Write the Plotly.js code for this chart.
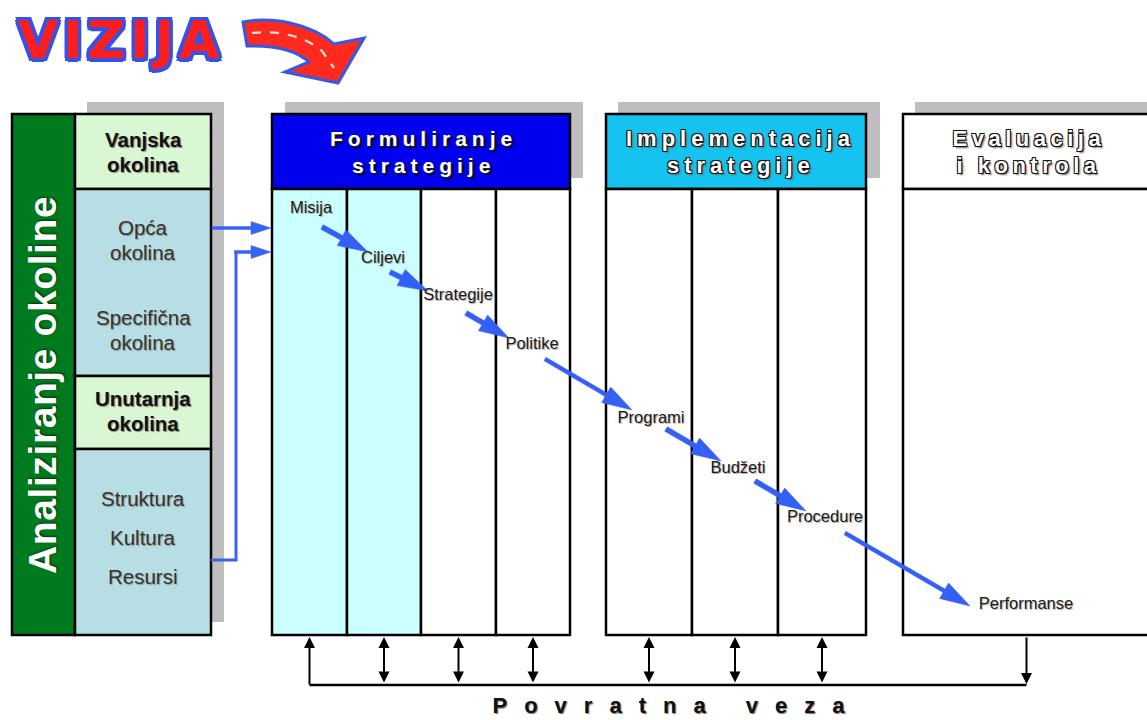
<!DOCTYPE html>
<html><head><meta charset="utf-8">
<script src="https://cdn.plot.ly/plotly-3.0.1.min.js"></script>
<style>html,body{margin:0;padding:0;background:#fff}#chart{width:1147px;height:720px}</style>
</head><body><div id="chart"></div>
<script>
// ---------- text content ----------
const title = 'VIZIJA';
const sideTitle = 'Analiziranje okoline';
const envHeaders = ['Vanjska<br>okolina', 'Unutarnja<br>okolina'];
const externalItems = ['Opća<br>okolina', 'Specifična<br>okolina'];
const internalItems = ['Struktura', 'Kultura', 'Resursi'];
const stageNames = ['Formuliranje<br>strategije', 'Implementacija<br>strategije', 'Evaluacija<br>i kontrola'];
const steps = ['Misija', 'Ciljevi', 'Strategije', 'Politike', 'Programi', 'Budžeti', 'Procedure', 'Performanse'];
const feedbackLabel = 'Povratna veza';

// ---------- geometry (pixel space of the diagram) ----------
const topY = 114, headBottom = 189, bottomY = 635;
const leftPanel = {x0: 12, xs: 75, x1: 211};
const envRows = [114, 189, 376, 449, 635];
const envHeaderY = [139, 398];
const externalY = [227, 317];
const internalY = [498, 537, 576];
const lineGap = 25;
const stageCols = [[272, 347, 421, 496, 570], [606, 692, 778, 866], [903, 1160]];
const stageHeadFill = ['#0000EE', '#14C3EF', '#FFFFFF'];
const stageColFill = [['#CCFFFF', '#CCFFFF', '#FFFFFF', '#FFFFFF'], ['#FFFFFF', '#FFFFFF', '#FFFFFF'], ['#FFFFFF']];
const stageTextX = [423, 741, 1029];
const stepX = [311, 383, 458, 532, 651, 738, 825, 1026];
const stepY = [209, 259, 296, 345, 419, 469, 518, 605];
const stepArrows = [[322, 227, 368, 252], [390, 272, 428, 291], [466, 313, 509, 338], [545, 359, 632, 410],
                    [666, 429, 721, 461], [755, 481, 806, 511], [845, 533, 970, 606]];
const feedbackY = 685;

// ---------- build ----------
const shapes = [], annotations = [], spacing = [];
const K = '#000';
function rect(x0, y0, x1, y1, fill, lw, lc) {
  shapes.push({type: 'rect', layer: 'below', xref: 'x', yref: 'y', x0, y0, x1, y1, fillcolor: fill,
    line: {width: lw === undefined ? 2.5 : lw, color: lc || K}});
}
function line(x0, y0, x1, y1, w, c) {
  shapes.push({type: 'line', layer: 'below', xref: 'x', yref: 'y', x0, y0, x1, y1, line: {width: w || 2.5, color: c || K}});
}
function pathShape(path, fill, lc, lw, dash) {
  shapes.push({type: 'path', layer: 'below', xref: 'x', yref: 'y', path, fillcolor: fill || 'rgba(0,0,0,0)',
    line: {color: lc || 'rgba(0,0,0,0)', width: lw || 0, dash: dash || 'solid'}});
}
function txt(x, y, text, font, extra) {
  annotations.push(Object.assign({x, y, xref: 'x', yref: 'y', text, showarrow: false, font,
    xanchor: 'center', yanchor: 'middle'}, extra || {}));
  return annotations.length - 1;
}
function arrow(x0, y0, x1, y1, opts) {
  annotations.push(Object.assign({x: x1, y: y1, ax: x0, ay: y0, xref: 'x', yref: 'y', axref: 'x', ayref: 'y',
    text: '', showarrow: true, standoff: 0}, opts));
}
// filled block arrow polygon from (x0,y0) to tip (x1,y1)
function blockArrow(x0, y0, x1, y1, ws, L, W, color) {
  const dx = x1 - x0, dy = y1 - y0, len = Math.hypot(dx, dy);
  const ux = dx / len, uy = dy / len, nx = -uy, ny = ux;
  const bx = x1 - ux * L, by = y1 - uy * L;
  const p = (x, y) => x.toFixed(1) + ',' + y.toFixed(1);
  const path = 'M' + p(x0 + nx * ws / 2, y0 + ny * ws / 2) +
    ' L' + p(bx + nx * ws / 2, by + ny * ws / 2) +
    ' L' + p(bx + nx * W / 2, by + ny * W / 2) +
    ' L' + p(x1, y1) +
    ' L' + p(bx - nx * W / 2, by - ny * W / 2) +
    ' L' + p(bx - nx * ws / 2, by - ny * ws / 2) +
    ' L' + p(x0 - nx * ws / 2, y0 - ny * ws / 2) + ' Z';
  pathShape(path, color, color, 0.5);
}
const GRAY = '#BEBEBE';
// shadows
rect(87, 102, 224, 622, GRAY, 0);
rect(285, 102, 583, 178, GRAY, 0);
rect(618, 102, 880, 178, GRAY, 0);
rect(915, 102, 1160, 178, GRAY, 0);

// left panel
rect(leftPanel.x0, topY, leftPanel.xs, bottomY, '#007A1E', 2.5);
const envFill = ['#D9F7D3', '#B7DEE4', '#D9F7D3', '#B7DEE4'];
for (let i = 0; i < 4; i++) rect(leftPanel.xs, envRows[i], leftPanel.x1, envRows[i + 1], envFill[i], 2.5);

// stage boxes
stageCols.forEach((cols, s) => {
  rect(cols[0], topY, cols[cols.length - 1], headBottom, stageHeadFill[s], 2.5);
  for (let c = 0; c < cols.length - 1; c++) rect(cols[c], headBottom, cols[c + 1], bottomY, stageColFill[s][c], 2.5);
});

// vision arrow (decorative)
pathShape('M243,22 C272,16 312,24 334,44 L364,38 L338,83 L285,72 L309,62 C296,50 276,45 247,46 Z', '#FF2A1E', '#3558E8', 3);
pathShape('M252,33 C280,30 306,37 322,51 L334,68', null, '#FFE0D8', 2.2, 'dash');

// feedback loop
const colCenters = [];
stageCols.forEach(cols => { for (let c = 0; c < cols.length - 1; c++) colCenters.push((cols[c] + Math.min(cols[c + 1], 1150)) / 2); });
const fbFirst = colCenters[0], fbLast = colCenters[colCenters.length - 1];
line(fbFirst, feedbackY, fbLast, feedbackY, 2.5);
colCenters.forEach((cx, i) => {
  const fb = {arrowcolor: K, arrowwidth: 2, arrowhead: 2, arrowsize: 1.1};
  if (i === 0) arrow(cx, feedbackY + 1, cx, bottomY + 2, fb);
  else if (i === colCenters.length - 1) arrow(cx, bottomY + 1, cx, feedbackY - 1, fb);
  else arrow(cx, feedbackY - 1, cx, bottomY + 2, Object.assign({arrowside: 'end+start', startarrowhead: 2, startarrowsize: 1.1}, fb));
});

// environment -> strategy arrows
const BL = '#3A63F3';
blockArrow(leftPanel.x1 + 1, 228, stageCols[0][0] - 1, 228, 3, 20, 13, BL);
pathShape('M211,560 L236,560 L236,252', null, BL, 3);
blockArrow(234.5, 252, stageCols[0][0] - 1, 252, 3, 20, 13, BL);

// step arrows
stepArrows.forEach((a, i) => {
  const long = (i === 3 || i === 6);
  blockArrow(a[0], a[1], a[2], a[3], long ? 4 : 5, 30, 18, '#3560F5');
});

// texts
const FF = '"Liberation Sans", Arial, sans-serif';
const vIdx = txt(121, 40, title, {family: '"DejaVu Sans", sans-serif', size: 52, color: '#FF1E1E', weight: 'bold',
  shadow: '-3px -3px 0 #3552E6, 3px -3px 0 #3552E6, -3px 3px 0 #3552E6, 3px 3px 0 #3552E6, 0 3.5px 0 #3552E6, 0 -3.5px 0 #3552E6, 3.5px 0 0 #3552E6, -3.5px 0 0 #3552E6'});
spacing.push([vIdx, 5]);
const sIdx = txt(42, 385, sideTitle, {family: FF, size: 39, color: '#FFFFFF', weight: 'bold', shadow: '1px 1px 2px #003300'}, {textangle: -90});
spacing.push([sIdx, 0.6]);
const cx = (leftPanel.xs + leftPanel.x1) / 2;
function multi(x, y0, text, font) { text.split('<br>').forEach((t, k) => txt(x, y0 + k * lineGap, t, font)); }
const boldF = {family: FF, size: 20.5, color: '#111', weight: 'bold', shadow: '1px 1px 1px #888'};
const regF = {family: FF, size: 20.5, color: '#333', shadow: '1px 1px 1px #999'};
envHeaders.forEach((t, i) => multi(cx, envHeaderY[i], t, boldF));
externalItems.forEach((t, i) => multi(cx, externalY[i], t, regF));
internalItems.forEach((t, i) => txt(cx, internalY[i], t, regF));

const outline = '-1px -1px 0 #111, 1px -1px 0 #111, -1px 1px 0 #111, 1px 1px 0 #111, 2px 2px 2px #666';
stageNames.forEach((t, i) => {
  const f = i === 0
    ? {family: FF, size: 21, color: '#FFFFFF', weight: 'bold', shadow: '1px 1px 0 #222, 2px 2px 2px #000'}
    : {family: FF, size: 22, color: '#FFFFFF', weight: 'bold', shadow: outline};
  t.split('<br>').forEach((ln, k) => {
    const idx = txt(stageTextX[i], 138 + k * 27, ln, f);
    spacing.push([idx, i === 0 ? 5 : (i === 1 ? 5 : 4.5)]);
  });
});
const fIdx = txt(677, 705, feedbackLabel, {family: FF, size: 22, color: '#111', weight: 'bold', shadow: '1px 1px 1px #777'});
spacing.push([fIdx, 17]);

// step labels through a text trace on the pixel axes
const traces = [{type: 'scatter', mode: 'text', x: stepX, y: stepY, text: steps, hoverinfo: 'skip',
  textposition: 'middle center', textfont: {family: FF, size: 16.5, color: '#1a1a1a', shadow: '1px 1px 1px #aaa'}}];

// letter spacing via CSS
const st = document.createElement('style');
st.textContent = spacing.map(([i, s]) => `.annotation[data-index="${i}"] .annotation-text{letter-spacing:${s}px}`).join('\n');
document.head.appendChild(st);

const layout = {
  width: 1147, height: 720, margin: {l: 0, r: 0, t: 0, b: 0}, paper_bgcolor: '#fff', plot_bgcolor: 'rgba(0,0,0,0)',
  showlegend: false, hovermode: false,
  xaxis: {range: [0, 1147], visible: false, fixedrange: true},
  yaxis: {range: [720, 0], visible: false, fixedrange: true},
  shapes, annotations
};
Plotly.newPlot('chart', traces, layout, {staticPlot: true, displayModeBar: false});
</script></body></html>
